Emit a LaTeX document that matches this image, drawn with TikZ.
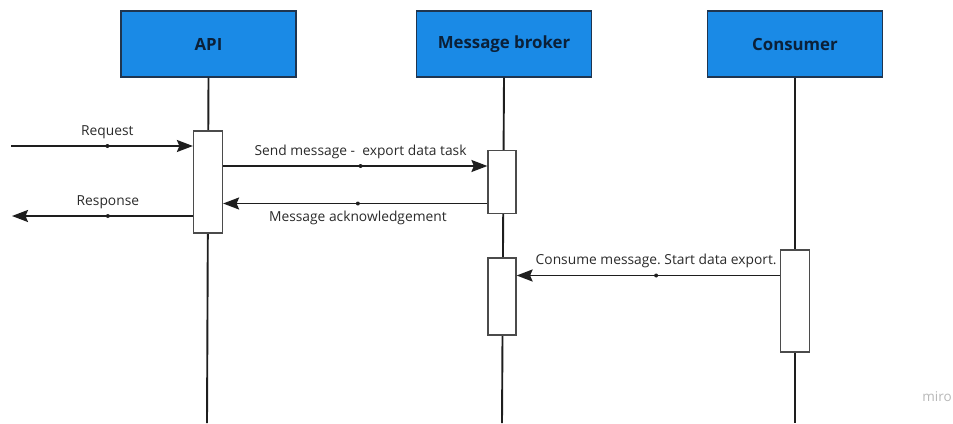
\documentclass[tikz,border=0pt]{standalone}
\usepackage{fontspec}
\setmainfont{Open Sans}
\usetikzlibrary{arrows.meta,calc}
\definecolor{boxblue}{HTML}{1A8AE6}
\definecolor{boxedge}{HTML}{1F3550}
\definecolor{titletext}{HTML}{0B2038}
\definecolor{ink}{HTML}{1E1E1E}
\definecolor{labeltext}{HTML}{2A2A2A}
\frenchspacing
\tikzset{
  actor/.style={draw=boxedge, line width=1.3pt, fill=boxblue, minimum width=175pt, minimum height=66pt,
    inner sep=0pt, font=\fontsize{16.8}{18}\selectfont\bfseries, text=titletext},
  lifeline/.style={draw=ink, line width=1.9pt},
  activation/.style={draw=ink!80, line width=1.2pt, fill=white, minimum width=29pt, inner sep=0pt},
  msg/.style={draw=ink, line width=1.9pt, -{Stealth[length=16pt,width=12pt,inset=2.5pt]}},
  lbl/.style={font=\fontsize{13.8}{15}\selectfont, text=labeltext, inner sep=1pt},
  middot/.style={circle, fill=ink, inner sep=0pt, minimum size=4pt},
}
\begin{document}
\begin{tikzpicture}[x=1pt,y=-1pt]
\useasboundingbox (0,0) rectangle (953,423);
% actors
\node[actor] (api) at (208.5,44) {API};
\node[actor] (broker) at (504,44) {Message broker};
\node[actor] (consumer) at (795,44) {Consumer};
% lifeline ends
\coordinate (apiend) at (207,423);
\coordinate (brokerend) at (502,423);
\coordinate (consend) at (795,423);
\draw[lifeline] (api.south) -- (apiend);
\draw[lifeline] (broker.south) -- (brokerend);
\draw[lifeline] (consumer.south) -- (consend);
% activations
\node[activation, minimum height=102pt] (apiact) at (208,182) {};
\node[activation, minimum height=63pt, minimum width=28pt] (bract1) at (502,182) {};
\node[activation, minimum height=77pt, minimum width=28pt] (bract2) at (502,296.5) {};
\node[activation, minimum height=102pt] (consact) at (795,301) {};
% free ends
\coordinate (reqstart) at (11,146);
\coordinate (respend) at (12,216);
% messages
\draw[msg] (reqstart) -- (apiact.west |- reqstart) node[pos=0.53, middot] (d1) {};
\node[lbl, above=6pt] (lreq) at (d1) {Request};
\coordinate (respy) at (0,216);
\draw[msg] (apiact.west |- respy) -- (respend) node[pos=0.47, middot] (d2) {};
\node[lbl, above=6pt] (lresp) at (d2) {Response};
\coordinate (sendy) at (0,166);
\draw[msg] (apiact.east |- sendy) -- (bract1.west |- sendy) node[pos=0.52, middot] (d3) {};
\node[lbl, above=6pt] (lsend) at (d3) {Send message -\ \ export data task};
\coordinate (acky) at (0,203.5);
\draw[msg] (bract1.west |- acky) -- (apiact.east |- acky) node[pos=0.49, middot] (d4) {};
\node[lbl, below=6.5pt] (lack) at (d4) {Message acknowledgement};
\coordinate (consy) at (0,275.5);
\draw[msg] (consact.west |- consy) -- (bract2.east |- consy) node[pos=0.47, middot] (d5) {};
\node[lbl, above=6pt] (lcons) at (d5) {Consume message. Start data export.};
% watermark
\node[font=\fontsize{13.5}{15}\selectfont, text=black!28] (miro) at (937,397) {miro};
\end{tikzpicture}
\end{document}
